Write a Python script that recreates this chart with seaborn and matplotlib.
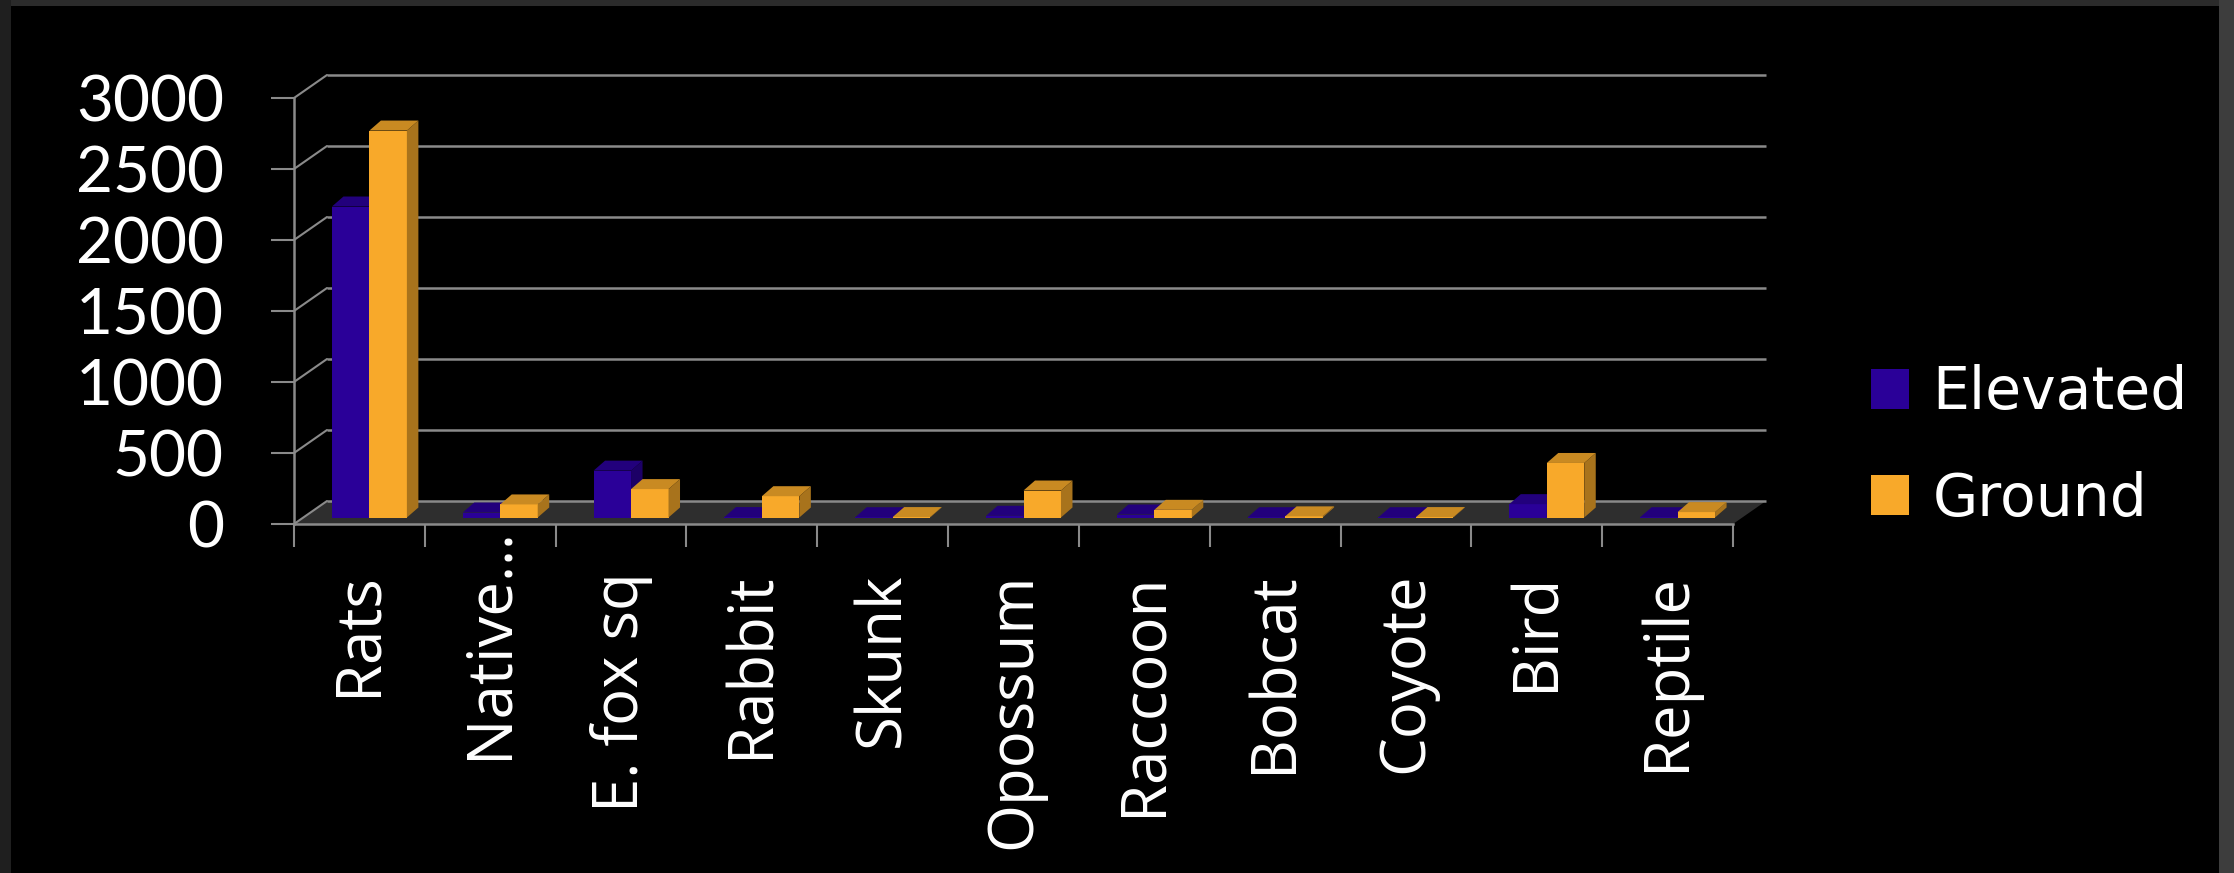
import numpy as np
import pandas as pd
import matplotlib
matplotlib.use("Agg")
import matplotlib.pyplot as plt
import seaborn as sns
from matplotlib.patches import Polygon, Rectangle, Patch
from matplotlib.transforms import ScaledTranslation

# ---------------- data ----------------
categories = ["Rats", "Native…", "E. fox sq", "Rabbit", "Skunk", "Opossum",
              "Raccoon", "Bobcat", "Coyote", "Bird", "Reptile"]
elevated = [2190, 35, 330, 3, 2, 12, 21, 2, 2, 94, 2]
ground = [2725, 92, 200, 150, 3, 190, 54, 8, 3, 384, 38]
series_names = ["Elevated", "Ground"]
y_ticks = [0, 500, 1000, 1500, 2000, 2500, 3000]

df = pd.DataFrame({
    "Category": categories * 2,
    "Count": elevated + ground,
    "Series": [series_names[0]] * len(categories) + [series_names[1]] * len(categories),
})

# ---------------- style ----------------
W, H, DPI = 2234, 873, 100
sns.set_theme(style="white")
plt.rcParams["font.family"] = ["Open Sans", "DejaVu Sans"]

front_col = {"Elevated": "#2a0098", "Ground": "#f8a92a"}
top_col = {"Elevated": "#22007c", "Ground": "#c98a22"}
side_col = {"Elevated": "#1c0066", "Ground": "#a8731c"}
grid_col = "#8a8a8a"

fig = plt.figure(figsize=(W / DPI, H / DPI), dpi=DPI, facecolor="#2b2b2b")
fig.add_artist(Rectangle((0, 0), 11 / W, 1, transform=fig.transFigure,
                         facecolor="#1f1f1f", edgecolor="none", zorder=-10))
fig.add_artist(Rectangle((2219 / W, 0), 1 - 2219 / W, 1, transform=fig.transFigure,
                         facecolor="#3d3d3d", edgecolor="none", zorder=-10))
fig.add_artist(Rectangle((11 / W, 0), (2219 - 11) / W, (H - 6) / H, transform=fig.transFigure,
                         facecolor="black", edgecolor="none", zorder=-9))

ax_l, ax_r, ax_b, ax_t = 294, 1733, 524, 98   # pixel extents of the front plane
ax = fig.add_axes([ax_l / W, (H - ax_b) / H, (ax_r - ax_l) / W, (ax_b - ax_t) / H])
ax.patch.set_visible(False)

sns.barplot(data=df, x="Category", y="Count", hue="Series", palette=front_col,
            width=0.573, saturation=1, legend=False, ax=ax,
            edgecolor="none", linewidth=0)

ax.set_xlim(-0.5, len(categories) - 0.5)
ax.set_ylim(0, 3000)

ux = (len(categories)) / (ax_r - ax_l)   # data units per pixel (x)
uy = 3000 / (ax_b - ax_t)                 # data units per pixel (y)

# pseudo-3D offsets (pixels)
bar_dx, bar_dy = 10 * ux, 6.5 * uy        # bar plane relative to front plane
dep_dx, dep_dy = 11.5 * ux, 10 * uy       # bar depth
wall_dx, wall_dy = 33 * ux, 23 * uy       # back wall relative to front plane

x_lo, x_hi = ax.get_xlim()

# floor
floor = Polygon([(x_lo, 0), (x_hi, 0), (x_hi + wall_dx, wall_dy), (x_lo + wall_dx, wall_dy)],
                closed=True, facecolor="#2e2e2e", edgecolor="none", zorder=0.5, clip_on=False)
ax.add_patch(floor)

# back wall gridlines + side diagonals
for t in y_ticks:
    ax.plot([x_lo + wall_dx, x_hi + wall_dx], [t + wall_dy, t + wall_dy], color=grid_col,
            lw=1.8, zorder=0.6, clip_on=False, solid_capstyle="butt")
    ax.plot([x_lo, x_lo + wall_dx], [t, t + wall_dy], color=grid_col,
            lw=1.5, zorder=0.6, clip_on=False)

# 3D bars
for j, cont in enumerate(ax.containers):
    name = series_names[j]
    for rect in cont:
        x0 = rect.get_x() + bar_dx
        w = rect.get_width()
        h = rect.get_height()
        rect.set_x(x0)
        rect.set_y(bar_dy)
        rect.set_zorder(2 + j)
        rect.set_clip_on(False)
        x1 = x0 + w
        y0 = bar_dy
        y1 = bar_dy + h
        top = Polygon([(x0, y1), (x1, y1), (x1 + dep_dx, y1 + dep_dy), (x0 + dep_dx, y1 + dep_dy)],
                      closed=True, facecolor=top_col[name], edgecolor="none",
                      zorder=2 + j, clip_on=False)
        side = Polygon([(x1, y0), (x1 + dep_dx, y0 + dep_dy), (x1 + dep_dx, y1 + dep_dy), (x1, y1)],
                       closed=True, facecolor=side_col[name], edgecolor="none",
                       zorder=2 + j, clip_on=False)
        ax.add_patch(side)
        ax.add_patch(top)

# spines
for s in ["top", "right"]:
    ax.spines[s].set_visible(False)
for s in ["left", "bottom"]:
    ax.spines[s].set_color(grid_col)
    ax.spines[s].set_linewidth(1.8)
    ax.spines[s].set_zorder(0.7)

# y axis
ax.set_yticks(y_ticks)
ax.set_yticklabels([str(t) for t in y_ticks])
ax.tick_params(axis="y", which="major", length=16.5, width=1.5, color=grid_col,
               pad=34, labelsize=46, labelcolor="white", direction="out", left=True)
for lbl in ax.get_yticklabels():
    lbl.set_fontfamily(["Lato", "DejaVu Sans"])

# x axis
ax.set_xticks(range(len(categories)))
ax.set_xticklabels(categories, rotation=90)
ax.set_xticks(np.arange(-0.5, len(categories), 1.0), minor=True)
ax.tick_params(axis="x", which="major", length=0, pad=35, labelsize=44.5, labelcolor="white",
               bottom=True)
ax.tick_params(axis="x", which="minor", length=16.5, width=1.5, color=grid_col,
               direction="out", bottom=True)
ax.set_xlabel("")
ax.set_ylabel("")
ax.grid(False)

# the truncated label sits higher, as in the original
xl = ax.get_xticklabels()
xl[1].set_transform(xl[1].get_transform() + ScaledTranslation(0, 46 / DPI, fig.dpi_scale_trans))

# legend
handles = [Patch(facecolor=front_col[n], edgecolor="none") for n in series_names]
fig.legend(handles, series_names, loc="center left",
           bbox_to_anchor=(1871 / W, (H - 446) / H), bbox_transform=fig.transFigure,
           frameon=False, prop={"family": ["DejaVu Sans"], "size": 42},
           handlelength=0.65, handleheight=0.68, handletextpad=0.4,
           labelspacing=0.85, borderpad=0, borderaxespad=0, labelcolor="white")

fig.savefig("out.png", dpi=DPI, facecolor=fig.get_facecolor())
